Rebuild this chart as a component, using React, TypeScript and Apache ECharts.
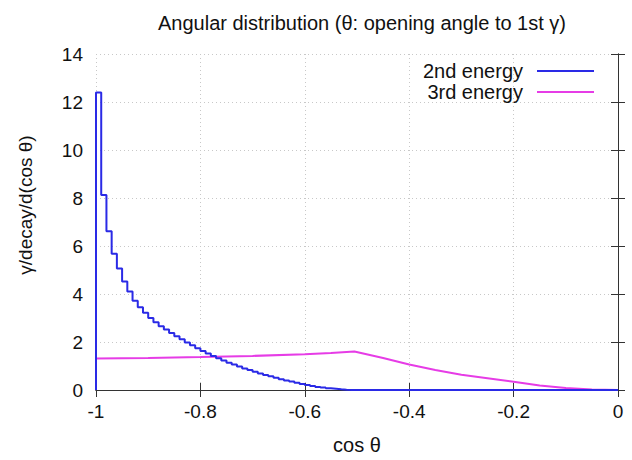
import React, { useEffect, useRef } from "react";
import * as echarts from "echarts";

const TITLE = "Angular distribution (θ: opening angle to 1st γ)";
const X_NAME = "cos θ";
const Y_NAME = "γ/decay/d(cos θ)";
const SERIES_NAMES = ["2nd energy", "3rd energy"];

// 2nd energy: histogram, bins of width 0.01 starting at cos θ = -1
const BIN_START = -1;
const BIN_WIDTH = 0.01;
const secondEnergyBins = [
  12.4, 8.12, 6.61, 5.68, 5.06, 4.52, 4.1, 3.72, 3.45, 3.22,
  3.0, 2.82, 2.66, 2.52, 2.38, 2.24, 2.11, 1.98, 1.86, 1.74,
  1.63, 1.52, 1.42, 1.32, 1.23, 1.14, 1.06, 0.98, 0.9, 0.83,
  0.76, 0.69, 0.63, 0.57, 0.51, 0.45, 0.4, 0.35, 0.3, 0.25,
  0.21, 0.17, 0.13, 0.1, 0.07, 0.05, 0.03, 0.015, 0.005, 0,
];
const secondEnergyTailEnd = 0;

// 3rd energy: smooth curve [cos θ, value]
const thirdEnergy = [
  [-1, 0], [-1, 1.31], [-0.9, 1.33], [-0.8, 1.37], [-0.7, 1.42], [-0.6, 1.49],
  [-0.55, 1.54], [-0.505, 1.6], [-0.45, 1.33], [-0.4, 1.06], [-0.35, 0.83],
  [-0.3, 0.64], [-0.25, 0.49], [-0.2, 0.34], [-0.15, 0.19], [-0.1, 0.08],
  [-0.05, 0.02], [0, 0],
];

const COLORS = ["#2a2ae6", "#e63ce6"];
const FONT = "Liberation Sans, Arial, sans-serif";

function buildSteps(): number[][] {
  const pts: number[][] = [[BIN_START, 0]];
  secondEnergyBins.forEach((v, i) => {
    const lo = +(BIN_START + i * BIN_WIDTH).toFixed(4);
    const hi = +(BIN_START + (i + 1) * BIN_WIDTH).toFixed(4);
    pts.push([lo, v]);
    pts.push([hi, v]);
  });
  const last = +(BIN_START + secondEnergyBins.length * BIN_WIDTH).toFixed(4);
  pts.push([last, 0]);
  pts.push([secondEnergyTailEnd, 0]);
  return pts;
}

export default function App() {
  const ref = useRef<HTMLDivElement>(null);
  useEffect(() => {
    if (!ref.current) return;
    const chart = echarts.init(ref.current, null, { renderer: "svg" });
    const axisLine = { show: true, lineStyle: { color: "#333", width: 1 } };
    const tick = { show: true, inside: true, length: 7, lineStyle: { color: "#333" } };
    const split = { show: true, lineStyle: { color: "#c8c8c8", type: [1, 3], width: 1 } };
    chart.setOption({
      animation: false,
      backgroundColor: "#fff",
      textStyle: { fontFamily: FONT },
      title: {
        text: TITLE,
        left: 357,
        top: 8,
        textAlign: "center",
        textStyle: { fontSize: 20, fontWeight: "normal", color: "#111", fontFamily: FONT },
      },
      legend: {
        data: SERIES_NAMES,
        orient: "vertical",
        align: "right",
        right: 38,
        top: 61,
        padding: 0,
        itemWidth: 57,
        itemHeight: 2,
        itemGap: 1,
        icon: "rect",
        textStyle: { fontSize: 20, color: "#111", fontFamily: FONT, padding: [0, 9, 0, 0] },
      },
      graphic: [
        {
          type: "text",
          x: 25,
          y: 205,
          rotation: Math.PI / 2,
          style: {
            text: Y_NAME,
            fontSize: 19,
            fontFamily: FONT,
            fill: "#111",
            align: "center",
            verticalAlign: "middle",
          },
        },
      ],
      grid: { left: 96, right: 14, top: 54, bottom: 67, containLabel: false },
      xAxis: [
        {
          type: "value", min: -1, max: 0, interval: 0.2, position: "bottom",
          axisLine, axisTick: tick, splitLine: split,
          axisLabel: { fontSize: 19, color: "#111", margin: 12, fontFamily: FONT },
          name: X_NAME, nameLocation: "middle", nameGap: 45,
          nameTextStyle: { fontSize: 20, color: "#111", fontFamily: FONT },
        },
        {
          type: "value", min: -1, max: 0, interval: 0.2, position: "top",
          axisLine, axisTick: tick, splitLine: { show: false }, axisLabel: { show: false },
        },
      ],
      yAxis: [
        {
          type: "value", min: 0, max: 14, interval: 2, position: "left",
          axisLine, axisTick: tick, splitLine: split,
          axisLabel: { fontSize: 19, color: "#111", margin: 13, fontFamily: FONT },
        },
        {
          type: "value", min: 0, max: 14, interval: 2, position: "right",
          axisLine, axisTick: tick, splitLine: { show: false }, axisLabel: { show: false },
        },
      ],
      series: [
        {
          name: SERIES_NAMES[0], type: "line", data: buildSteps(), showSymbol: false,
          color: COLORS[0], lineStyle: { width: 2, color: COLORS[0] }, z: 3,
        },
        {
          name: SERIES_NAMES[1], type: "line", data: thirdEnergy, showSymbol: false,
          color: COLORS[1], lineStyle: { width: 2, color: COLORS[1] }, z: 2,
        },
      ],
    });
    return () => chart.dispose();
  }, []);
  return (
    <div
      ref={ref}
      style={{ position: "absolute", left: 0, top: 0, width: 632, height: 460 }}
    />
  );
}
